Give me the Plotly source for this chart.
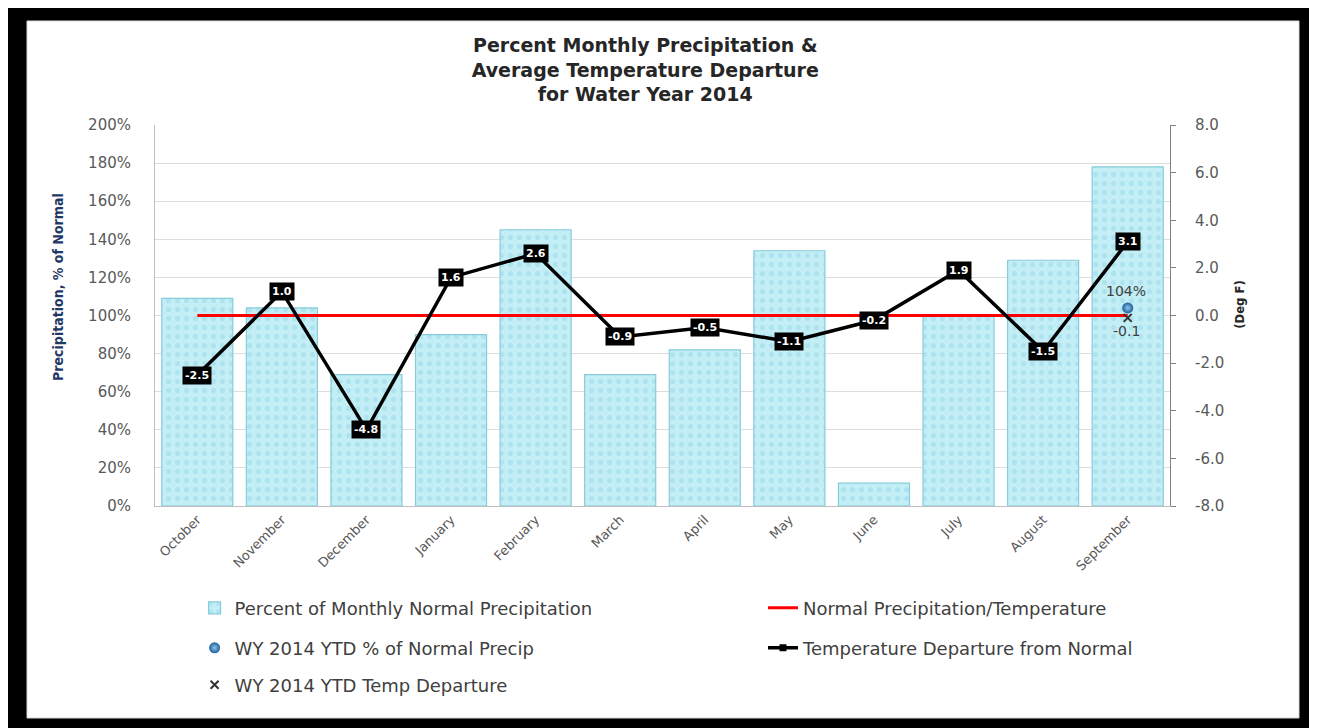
import plotly.graph_objects as go

months = ["October", "November", "December", "January", "February", "March",
          "April", "May", "June", "July", "August", "September"]
precip_pct = [109, 104, 69, 90, 145, 69, 82, 134, 12, 100, 129, 178]
temp_dep = [-2.5, 1.0, -4.8, 1.6, 2.6, -0.9, -0.5, -1.1, -0.2, 1.9, -1.5, 3.1]
normal_line = [100] * 12
ytd_month = ["September"]
ytd_precip = [104]
ytd_temp = [-0.1]
temp_tick_vals = [-8, -6, -4, -2, 0, 2, 4, 6, 8]
temp_tick_text = ["-8.0", "-6.0", "-4.0", "-2.0", "0.0", "2.0", "4.0", "6.0", "8.0"]

TICK_FONT = dict(family="DejaVu Sans", size=15, color="#595959")
LEG_FONT = dict(family="DejaVu Sans", size=18, color="#404040")

fig = go.Figure()

fig.add_trace(go.Bar(
    x=months, y=precip_pct, name="Percent of Monthly Normal Precipitation",
    marker=dict(color="#C3EEF6", line=dict(color="#86CCDA", width=1.2),
                pattern=dict(shape=".", fgcolor="#96D8E8", bgcolor="#C3EEF6",
                             size=9, solidity=0.25)),
    legend="legend", showlegend=True, yaxis="y"))

fig.add_trace(go.Scatter(
    x=months, y=normal_line, name="Normal Precipitation/Temperature",
    mode="lines", line=dict(color="#FF0000", width=3), legend="legend2", yaxis="y"))

fig.add_trace(go.Scatter(
    x=ytd_month, y=ytd_precip, name="WY 2014 YTD % of Normal Precip",
    mode="markers",
    marker=dict(symbol="circle", size=11, color="#1F5F99",
                gradient=dict(type="radial", color="#8CC4EC")),
    legend="legend3", yaxis="y"))

fig.add_trace(go.Scatter(
    x=months, y=temp_dep, name="Temperature Departure from Normal",
    mode="lines+markers", line=dict(color="#000000", width=3.5),
    marker=dict(symbol="square", size=7, color="#000000"),
    legend="legend4", yaxis="y2"))

fig.add_trace(go.Scatter(
    x=ytd_month, y=ytd_temp, name="WY 2014 YTD Temp Departure",
    mode="markers", marker=dict(symbol="x-thin", size=8, color="#333333",
                                line=dict(color="#333333", width=2)),
    legend="legend5", yaxis="y2"))

annotations = []
for m, t in zip(months, temp_dep):
    annotations.append(dict(
        x=m, y=t, xref="x", yref="y2", text=f"<b>{t:.1f}</b>", showarrow=False,
        bgcolor="#000000", borderpad=2,
        font=dict(family="DejaVu Sans", size=11, color="#FFFFFF")))
for m, p in zip(ytd_month, ytd_precip):
    annotations.append(dict(
        x=m, y=p, xref="x", yref="y", text=f"{p}%", showarrow=False, yshift=17,
        xshift=-2, font=dict(family="DejaVu Sans", size=14, color="#404040")))
for m, t in zip(ytd_month, ytd_temp):
    annotations.append(dict(
        x=m, y=t, xref="x", yref="y2", text=f"{t:.1f}", showarrow=False, yshift=-13,
        xshift=-1, font=dict(family="DejaVu Sans", size=14, color="#404040")))

annotations.append(dict(
    x=-0.0956, y=0.575, xref="paper", yref="paper", text="<b>Precipitation, % of Normal</b>",
    textangle=-90, showarrow=False, xanchor="center", yanchor="middle",
    font=dict(family="DejaVu Sans Condensed, DejaVu Sans", size=14, color="#1F3864")))
annotations.append(dict(
    x=1.069, y=0.528, xref="paper", yref="paper", text="<b>(Deg F)</b>",
    textangle=-90, showarrow=False, xanchor="center", yanchor="middle",
    font=dict(family="DejaVu Sans Condensed, DejaVu Sans", size=13, color="#262626")))

def leg(x, y):
    return dict(orientation="h", x=x, xanchor="left", y=y, yanchor="middle",
                font=LEG_FONT, bgcolor="rgba(0,0,0,0)")

fig.update_layout(
    width=1309, height=720,
    margin=dict(l=147, r=147, t=117, b=222),
    paper_bgcolor="#000000", plot_bgcolor="#FFFFFF",
    bargap=0.16,
    showlegend=True,
    title=dict(
        text="<b>Percent Monthly Precipitation &<br>Average Temperature Departure<br>for Water Year 2014</b>",
        x=0.483, xref="paper", xanchor="center", y=0.939, yref="container", yanchor="top",
        font=dict(family="DejaVu Sans", size=19, color="#262626")),
    xaxis=dict(range=[-0.5, 11.5], tickangle=-45,
               tickfont=dict(family="DejaVu Sans", size=13, color="#595959"),
               showline=True, linecolor="#BFBFBF", ticks="", showgrid=False),
    yaxis=dict(range=[0, 200], dtick=20, ticksuffix="%", tickfont=TICK_FONT,
               ticklabelstandoff=20,
               showgrid=True, gridcolor="#DDDDDD", showline=True, linecolor="#BFBFBF",
               zeroline=False),
    yaxis2=dict(range=[-8, 8], tickvals=temp_tick_vals, ticktext=temp_tick_text,
                overlaying="y", side="right", ticklabelstandoff=16,
                tickfont=TICK_FONT, showgrid=False, zeroline=False, showline=True,
                linecolor="#808080", ticks="outside", ticklen=5, tickcolor="#808080"),
    legend=leg(0.039, -0.268),
    legend2=leg(0.599, -0.268),
    legend3=leg(0.039, -0.373),
    legend4=leg(0.599, -0.373),
    legend5=leg(0.039, -0.47),
    annotations=annotations,
    shapes=[dict(type="rect", xref="paper", yref="paper", x0=-0.1261, x1=1.1271,
                 y0=-0.5564, y1=1.273, fillcolor="#FFFFFF",
                 line=dict(color="#D9D9D9", width=1), layer="below")],
)

fig.write_html("out.html")
